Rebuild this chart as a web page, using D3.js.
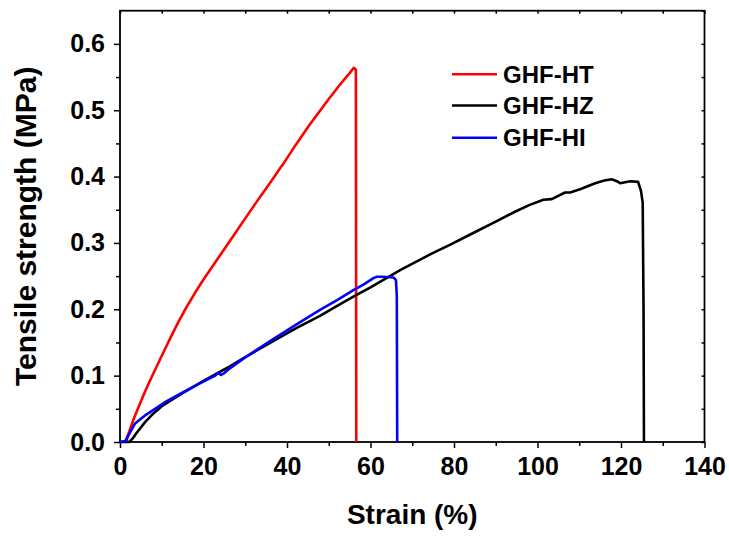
<!DOCTYPE html>
<html>
<head>
<meta charset="utf-8">
<script src="https://cdn.jsdelivr.net/npm/d3@7"></script>
<style>
  body { margin: 0; background: #fff; }
  svg text { font-family: "Liberation Sans", Arial, sans-serif; font-weight: bold; fill: #000; }
</style>
</head>
<body>
<svg id="chart" width="729" height="538"></svg>
<script>
// stress-strain curves, values
var seriesNames = ["GHF-HT", "GHF-HZ", "GHF-HI"]
var seriesColors = ["#ff0000", "#000000", "#0000ff"]

var htStrain = [1.2, 2, 3, 4, 5, 6, 7, 8.5, 10, 12.4, 14, 16, 18, 20, 22.5, 25, 27.5, 30, 32.5, 35, 37, 38.5, 39, 42, 45.5, 48, 50, 53, 55, 56, 56.5, 56.6]
var htStress = [0, 0.012, 0.03, 0.046, 0.061, 0.076, 0.09, 0.11, 0.13, 0.161, 0.181, 0.204, 0.225, 0.245, 0.268, 0.291, 0.314, 0.337, 0.36, 0.382, 0.4, 0.414, 0.418, 0.447, 0.479, 0.5, 0.517, 0.541, 0.556, 0.564, 0.561, 0]

var hzStrain = [0, 2.2, 3, 4, 6, 8, 10, 14.8, 20, 24, 26.3, 30, 36.7, 42, 47.9, 52, 55.9, 60, 63.5, 67.1, 71.9, 75, 79, 84.6, 90, 94.6, 98, 101.4, 103.4, 106.6, 107.8, 110.2, 113.8, 116, 117.8, 119, 119.8, 122.2, 124.1, 124.8, 125.2, 125.4, 125.5]
var hzStress = [0, 0, 0.005, 0.014, 0.03, 0.043, 0.054, 0.073, 0.092, 0.106, 0.114, 0.128, 0.152, 0.171, 0.19, 0.205, 0.219, 0.233, 0.246, 0.259, 0.275, 0.285, 0.297, 0.315, 0.332, 0.347, 0.357, 0.365, 0.366, 0.376, 0.376, 0.381, 0.39, 0.394, 0.396, 0.393, 0.39, 0.393, 0.392, 0.378, 0.36, 0.2, 0]

var hiStrain = [0, 1.5, 2, 3.6, 6, 8.4, 11, 14.8, 19, 22.8, 23.5, 24.2, 25, 26.3, 29.9, 33, 36.7, 42, 47.9, 52, 55.9, 58.5, 60.7, 61.5, 63, 65.5, 66.1, 66.3, 66.4]
var hiStress = [0, 0.002, 0.01, 0.028, 0.04, 0.05, 0.061, 0.074, 0.088, 0.1, 0.104, 0.101, 0.104, 0.111, 0.127, 0.14, 0.155, 0.176, 0.199, 0.214, 0.229, 0.238, 0.247, 0.249, 0.249, 0.248, 0.244, 0.22, 0]

var xMajorTicks = [0, 20, 40, 60, 80, 100, 120, 140]
var yMajorTicks = [0, 0.1, 0.2, 0.3, 0.4, 0.5, 0.6]

var svg = d3.select("#chart")
// plot box edges (window.top is reserved, so prefixed names)
var boxL = 120, boxR = 704.5, boxT = 10.7, boxB = 442

var x = d3.scaleLinear().domain([0, 140]).range([boxL, boxR])
var y = d3.scaleLinear().domain([0, 0.65]).range([boxB, boxT])

function zip(a, b) {
    return a.map(function(v, i) { return [v, b[i]] })
}
var curves = [zip(htStrain, htStress), zip(hzStrain, hzStress), zip(hiStrain, hiStress)]

// minor ticks first, majors on top
svg.append("g")
    .attr("transform", "translate(0," + boxB + ")")
    .call(d3.axisBottom(x).tickValues(d3.range(10, 140, 20)).tickSize(4).tickFormat(""))
svg.append("g")
    .attr("transform", "translate(" + boxL + ",0)")
    .call(d3.axisLeft(y).tickValues(d3.range(0.05, 0.65, 0.1)).tickSize(4).tickFormat(""))

var xAxis = svg.append("g")
    .attr("class", "xaxis")
    .attr("transform", "translate(0," + boxB + ")")
    .call(d3.axisBottom(x).tickValues(xMajorTicks).tickSize(6).tickPadding(9).tickFormat(d3.format("d")))
var yAxis = svg.append("g")
    .attr("class", "yaxis")
    .attr("transform", "translate(" + boxL + ",0)")
    .call(d3.axisLeft(y).tickValues(yMajorTicks).tickSize(6).tickPadding(9).tickFormat(d3.format(".1f")))

// top and right: small inward ticks, no labels
svg.append("g")
    .attr("transform", "translate(0," + boxT + ")")
    .call(d3.axisTop(x).tickValues(d3.range(0, 141, 10)).tickSize(-3).tickFormat(""))
svg.append("g")
    .attr("transform", "translate(" + boxR + ",0)")
    .call(d3.axisRight(y).tickValues(d3.range(0, 0.651, 0.05)).tickSize(-3).tickFormat(""))

svg.selectAll(".domain").remove()
svg.selectAll(".tick line").attr("stroke", "#000").attr("stroke-width", 1.5)
svg.selectAll(".xaxis text, .yaxis text").style("font-size", "25px")

svg.append("rect")
    .attr("x", boxL).attr("y", boxT)
    .attr("width", boxR - boxL).attr("height", boxB - boxT)
    .attr("fill", "none").attr("stroke", "#000").attr("stroke-width", 1.8)

var line = d3.line()
    .x(function(d) { return x(d[0]) })
    .y(function(d) { return y(d[1]) })

svg.selectAll(".curve")
    .data(curves)
    .enter()
    .append("path")
    .attr("class", "curve")
    .attr("d", line)
    .attr("fill", "none")
    .attr("stroke", function(d, i) { return seriesColors[i] })
    .attr("stroke-width", 2.6)
    .attr("stroke-linejoin", "round")

// legend
var legendY = [74.3, 105.5, 137.7]
var lg = svg.selectAll(".legend")
    .data(seriesNames)
    .enter()
    .append("g")
    .attr("class", "legend")
    .attr("transform", function(d, i) { return "translate(452," + legendY[i] + ")" })
lg.append("line")
    .attr("x1", 0).attr("x2", 45)
    .attr("stroke", function(d, i) { return seriesColors[i] })
    .attr("stroke-width", 2.6)
lg.append("text")
    .attr("x", 51).attr("y", 8.6)
    .style("font-size", "24px")
    .text(function(d) { return d })

svg.append("text")
    .attr("x", (boxL + boxR) / 2).attr("y", 524)
    .attr("text-anchor", "middle")
    .style("font-size", "28px")
    .text("Strain (%)")

svg.append("text")
    .attr("transform", "translate(36," + (boxT + boxB) / 2 + ") rotate(-90)")
    .attr("text-anchor", "middle")
    .style("font-size", "30px")
    .text("Tensile strength (MPa)")
</script>
</body>
</html>
